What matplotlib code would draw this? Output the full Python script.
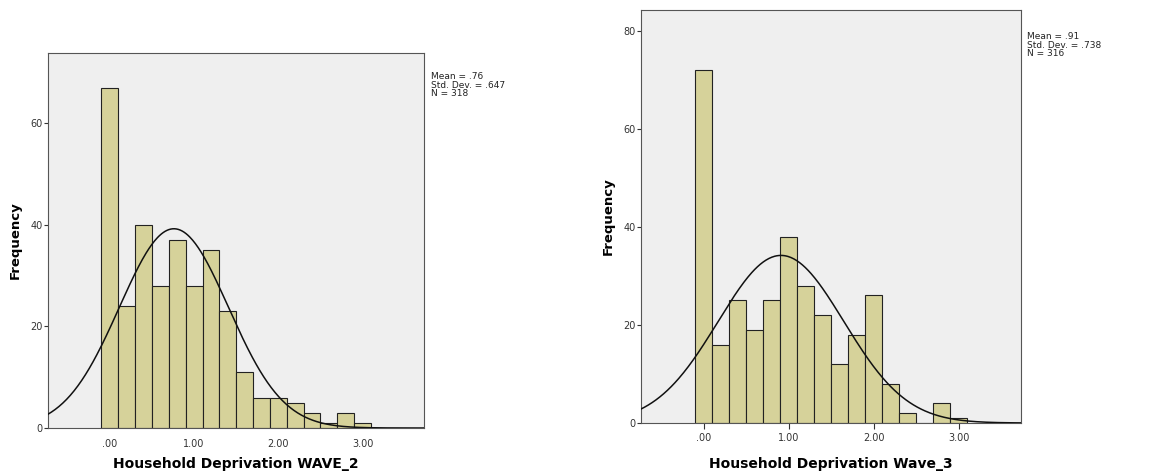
import numpy as np
import matplotlib.pyplot as plt

bin_centers = [0.0, 0.2, 0.4, 0.6, 0.8, 1.0, 1.2, 1.4, 1.6, 1.8, 2.0, 2.2, 2.4, 2.6, 2.8, 3.0]
bin_width = 0.2

wave2_counts = [67, 24, 40, 28, 37, 28, 35, 23, 11, 6, 6, 5, 3, 1, 3, 1]
wave2_mean, wave2_sd, wave2_n = 0.76, 0.647, 318

wave3_counts = [72, 16, 25, 19, 25, 38, 28, 22, 12, 18, 26, 8, 2, 0, 4, 1]
wave3_mean, wave3_sd, wave3_n = 0.91, 0.738, 316

xticks = [0, 1, 2, 3]
xtick_labels = [".00", "1.00", "2.00", "3.00"]

bar_color = "#d6d29a"
face = "#efefef"


def draw(ax, counts, mean, sd, n, xlabel, yticks, ytop, xtick_len, xpad, lpad):
    ax.set_facecolor(face)
    ax.bar(bin_centers, counts, width=bin_width, color=bar_color,
           edgecolor="#222222", linewidth=0.8, zorder=2)
    xs = np.linspace(-0.74, 3.75, 400)
    ys = n * bin_width / (sd * np.sqrt(2 * np.pi)) * np.exp(-0.5 * ((xs - mean) / sd) ** 2)
    ax.plot(xs, ys, color="#111111", linewidth=1.1, zorder=3)
    ax.set_xlim(-0.735, 3.73)
    ax.set_ylim(0, ytop)
    ax.set_xticks(xticks)
    ax.set_xticklabels(xtick_labels)
    ax.set_yticks(yticks)
    ax.tick_params(axis="x", length=xtick_len, labelsize=7, pad=xpad, colors="#333333")
    ax.tick_params(axis="y", length=3, labelsize=7, pad=1, colors="#333333")
    for s in ax.spines.values():
        s.set_color("#555555")
        s.set_linewidth(0.8)
    ax.set_xlabel(xlabel, fontsize=10, fontweight="bold", labelpad=lpad)
    ax.set_ylabel("Frequency", fontsize=9.5, fontweight="bold")
    ax.yaxis.set_label_coords(-0.07, 0.5)


fig = plt.figure(figsize=(11.51, 4.73), dpi=100)

ax1 = fig.add_axes([0.0417, 0.0951, 0.3267, 0.7928])
draw(ax1, wave2_counts, wave2_mean, wave2_sd, wave2_n,
     "Household Deprivation WAVE_2", [0, 20, 40, 60], 73.8, 0, 8, 6)

ax2 = fig.add_axes([0.5569, 0.1057, 0.3301, 0.8732])
draw(ax2, wave3_counts, wave3_mean, wave3_sd, wave3_n,
     "Household Deprivation Wave_3", [0, 20, 40, 60, 80], 84.2, 4, 3, 10)

fig.text(431 / 1151, 1 - 72 / 473,
         "Mean = .76\nStd. Dev. = .647\nN = 318",
         fontsize=6.5, va="top", ha="left", linespacing=0.95, color="#222222")
fig.text(1027 / 1151, 1 - 32 / 473,
         "Mean = .91\nStd. Dev. = .738\nN = 316",
         fontsize=6.5, va="top", ha="left", linespacing=0.95, color="#222222")

fig.savefig("out.png", dpi=100)
